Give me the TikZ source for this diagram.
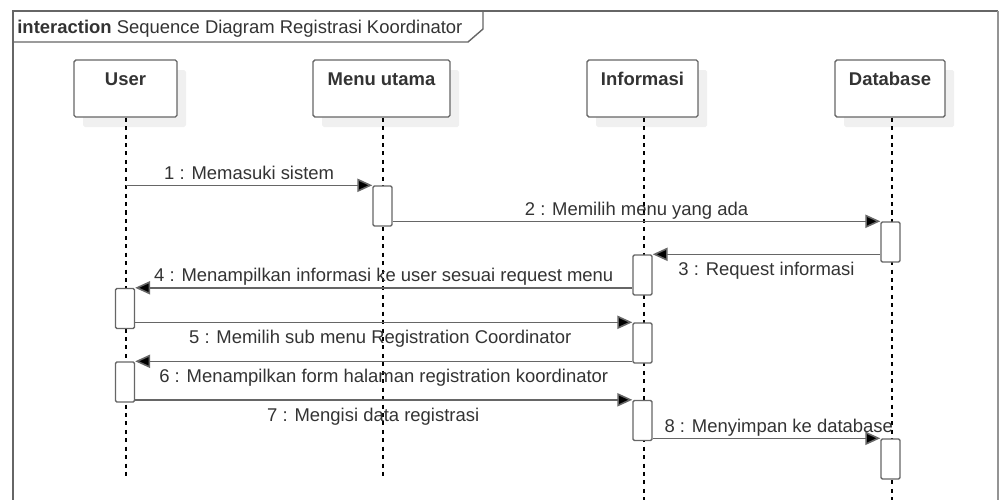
\documentclass[tikz,border=0pt]{standalone}
\usepackage{fontspec}
\setmainfont{Liberation Sans}
\usetikzlibrary{arrows.meta,shadows}

\definecolor{linegray}{HTML}{666666}
\definecolor{textgray}{HTML}{333333}
\definecolor{shadowgray}{HTML}{F0F0F0}

\tikzset{
  lifehead/.style={draw=linegray, line width=0.8pt, fill=white, rounded corners=1pt,
    minimum width=20.6mm, inner sep=0pt, text height=5mm, text depth=6.4mm,
    font=\bfseries\fontsize{10.5}{12}\selectfont, text=textgray,
    drop shadow={shadow xshift=1.8mm, shadow yshift=-2mm, fill=shadowgray, opacity=1}},
  act/.style={draw=linegray, line width=0.8pt, fill=white, rounded corners=0.8pt,
    minimum width=3.8mm, minimum height=8mm, inner sep=0pt},
  lifeline/.style={line width=0.6pt, dash pattern=on 2.3pt off 2.5pt},
  msg/.style={draw=linegray, line width=0.9pt, -{Triangle[length=8.5pt,width=7.5pt,fill=black]}},
  lbl/.style={font=\fontsize{10.5}{12}\selectfont, text=textgray, inner sep=0pt, anchor=base},
  above lbl/.style={lbl, yshift=3.4pt},
  below lbl/.style={lbl, yshift=-12.2pt}
}

\begin{document}
\begin{tikzpicture}[x=0.2mm, y=-0.2mm]
  \useasboundingbox (0,0) rectangle (1000,500);

  % frame
  \draw[linegray, line width=1.1pt] (13,500) -- (13,11) -- (998,11);
  \draw[linegray!70, line width=0.6pt] (998,11) -- (998,500);
  \draw[linegray, line width=0.8pt] (13,42) -- (468,42) -- (483,29) -- (483,11);
  \node[lbl, anchor=base west] (title) at (17,33)
    {\textbf{interaction} Sequence Diagram Registrasi Koordinator};

  % lifeline heads
  \node[lifehead] (user) at (125.5,88.5) {User};
  \node[lifehead, minimum width=27.4mm] (menu) at (381.5,88.5) {Menu utama};
  \node[lifehead, minimum width=22.2mm] (info) at (642.5,88.5) {Informasi};
  \node[lifehead, minimum width=22mm] (db) at (890,88.5) {Database};

  \coordinate (userEnd) at (126,480);
  \coordinate (menuEnd) at (383,480);
  \coordinate (infoEnd) at (644,500);
  \coordinate (dbEnd) at (892,500);

  \draw[lifeline] (user.south -| userEnd) -- (userEnd);
  \draw[lifeline] (menu.south -| menuEnd) -- (menuEnd);
  \draw[lifeline] (info.south -| infoEnd) -- (infoEnd);
  \draw[lifeline] (db.south -| dbEnd) -- (dbEnd);

  % activations
  \node[act] (m1) at (382.5,206) {};
  \node[act] (d1) at (890.5,242) {};
  \node[act] (i1) at (642.5,275) {};
  \node[act] (u1) at (125,308.5) {};
  \node[act] (i2) at (642.5,343) {};
  \node[act] (u2) at (125,382) {};
  \node[act] (i3) at (642.5,420.5) {};
  \node[act] (d2) at (890.5,459) {};

  % messages
  \draw[msg] (m1.north west -| userEnd) -- node[above lbl] {1 : Memasuki sistem} (m1.north west);
  \draw[msg] (d1.north west -| m1.east) -- node[above lbl] {2 : Memilih menu yang ada} (d1.north west);
  \draw[msg] (i1.north east -| d1.west) -- node[below lbl] {3 : Request informasi} (i1.north east);
  \draw[msg] (u1.north east -| i1.west) -- node[above lbl] {4 : Menampilkan informasi ke user sesuai request menu} (u1.north east);
  \draw[msg] (i2.north west -| u1.east) -- node[below lbl, xshift=-2pt] {5 : Memilih sub menu Registration Coordinator} (i2.north west);
  \draw[msg] (u2.north east -| i2.west) -- node[below lbl] {6 : Menampilkan form halaman registration koordinator} (u2.north east);
  \draw[msg] (i3.north west -| u2.east) -- node[below lbl, xshift=-6pt] {7 : Mengisi data registrasi} (i3.north west);
  \draw[msg] (d2.north west -| i3.east) -- node[above lbl, xshift=7pt] {8 : Menyimpan ke database} (d2.north west);
\end{tikzpicture}
\end{document}
